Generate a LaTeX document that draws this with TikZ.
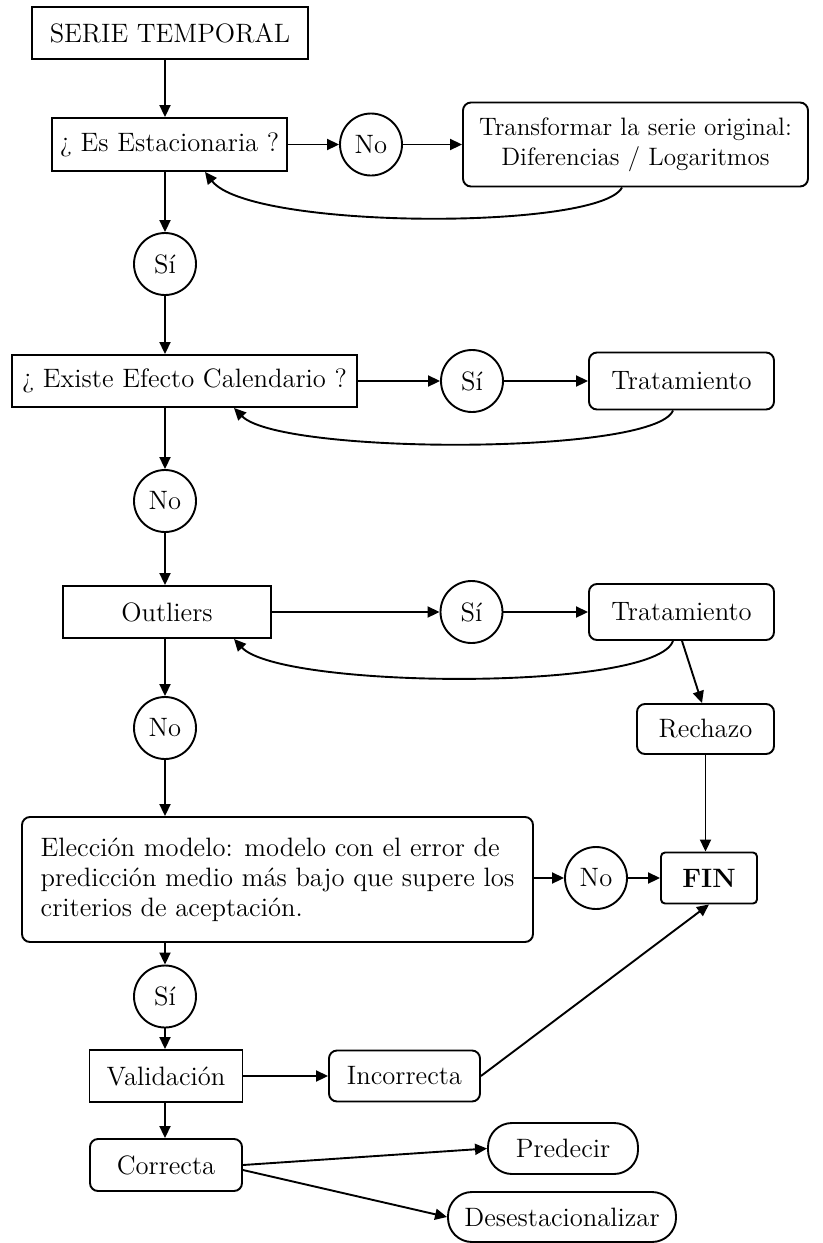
\documentclass[tikz,border=0pt]{standalone}
\usepackage{fontspec}
\usetikzlibrary{arrows.meta}
\begin{document}
\begin{tikzpicture}[x=0.5pt,y=-0.5pt,line width=0.95pt,
        >={Triangle[length=6pt,width=5.5pt]},
        font=\fontsize{13.3}{15}\selectfont,
        caja/.style={draw,inner sep=0pt,align=center},
        redonda/.style={caja,rounded corners=4pt},
        ovalo/.style={caja,rounded corners=12pt},
        resp/.style={draw,circle,inner sep=0pt,minimum size=31pt}]
        \useasboundingbox (0,0) rectangle (823,1243);
        \coordinate (col) at (165,0);
        % columna principal
        \node[caja,minimum width=138pt,minimum height=26pt] (serie) at (170,33) {SERIE TEMPORAL};
        \node[caja,minimum width=117.5pt,minimum height=26.5pt] (estac) at (169.5,144.5) {¿ Es Estacionaria ?};
        \node[resp] (si1) at (165,264) {Sí};
        \node[caja,minimum width=172.5pt,minimum height=26pt] (efecto) at (184.5,381) {¿ Existe Efecto Calendario ?};
        \node[resp] (no2) at (165,501) {No};
        \node[caja,minimum width=104pt,minimum height=26pt] (outl) at (167,612) {Outliers};
        \node[resp] (no3) at (165,728) {No};
        \node[redonda,minimum width=255.5pt,minimum height=62.5pt,align=left] (elec) at (277.5,879.5)
            {Elección modelo: modelo con el error de\\predicción medio más bajo que supere los\\criterios de aceptación.};
        \node[resp] (si4) at (165,996.5) {Sí};
        \node[caja,minimum width=76.5pt,minimum height=26pt] (valid) at (166,1076) {Validación};
        \node[redonda,minimum width=76pt,minimum height=26pt] (corr) at (166,1165) {Correcta};
        % ramas
        \node[resp] (no1) at (371,144.5) {No};
        \node[redonda,minimum width=172.5pt,minimum height=42pt,font=\fontsize{12.6}{15}\selectfont] (trans) at (635.5,144.5)
            {Transformar la serie original:\\Diferencias / Logaritmos};
        \node[resp] (si2) at (472,381) {Sí};
        \node[redonda,minimum width=92.5pt,minimum height=28.5pt] (trat1) at (681.5,381) {Tratamiento};
        \node[resp] (si3) at (471.5,612) {Sí};
        \node[redonda,minimum width=92.5pt,minimum height=28pt] (trat2) at (681.5,612) {Tratamiento};
        \node[redonda,minimum width=68.5pt,minimum height=25pt] (rech) at (705.5,729) {Rechazo};
        \node[resp] (no4) at (596,878) {No};
        \node[redonda,rounded corners=2pt,minimum width=48pt,minimum height=25.5pt] (fin) at (709,878) {\textbf{FIN}};
        \node[redonda,minimum width=75.5pt,minimum height=25.5pt] (incor) at (404.5,1076) {Incorrecta};
        \node[ovalo,minimum width=75pt,minimum height=25.5pt] (pred) at (563,1148.5) {Predecir};
        \node[ovalo,minimum width=114pt,minimum height=25pt] (deses) at (562,1217) {Desestacionalizar};
        % flechas verticales
        \draw[->] (serie.south -| col) -- (estac.north -| col);
        \draw[->] (estac.south -| col) -- (si1);
        \draw[->] (si1) -- (efecto.north -| col);
        \draw[->] (efecto.south -| col) -- (no2);
        \draw[->] (no2) -- (outl.north -| col);
        \draw[->] (outl.south -| col) -- (no3);
        \draw[->] (no3) -- (elec.north -| col);
        \draw[->] (elec.south -| col) -- (si4);
        \draw[->] (si4) -- (valid.north -| col);
        \draw[->] (valid.south -| col) -- (corr.north -| col);
        % flechas horizontales
        \draw[->] (estac) -- (no1);
        \draw[->] (no1) -- (trans);
        \draw[->] (efecto) -- (si2);
        \draw[->] (si2) -- (trat1);
        \draw[->] (outl) -- (si3);
        \draw[->] (si3) -- (trat2);
        \draw[->] (elec.east |- no4) -- (no4);
        \draw[->] (no4) -- (fin);
        \draw[->] (valid) -- (incor);
        % retornos
        \draw[->] ([xshift=-6.75pt]trans.south) .. controls +(-22,43) and +(45,58) .. ([xshift=17.75pt]estac.south);
        \draw[->] ([xshift=-4.25pt]trat1.south) .. controls +(-18,45) and +(46,47) .. ([xshift=24.75pt]efecto.south);
        \draw[->] ([xshift=-4.25pt]trat2.south) .. controls +(-18,51) and +(46,50) .. ([xshift=33.5pt]outl.south);
        % final
        \draw[->] ([xshift=0.25pt]trat2.south) -- ([xshift=-1.75pt]rech.north);
        \draw[->] (rech.south) -- (rech.south |- fin.north);
        \draw[->] (incor.east) -- (fin.south);
        \draw[->] (corr.east) -- (pred.west);
        \draw[->] ([yshift=-2.5pt]corr.east) -- (deses.west);
    \end{tikzpicture}
\end{document}
